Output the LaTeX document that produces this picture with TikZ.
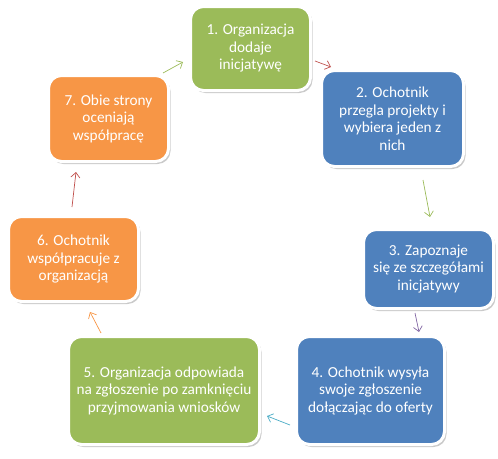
\documentclass[tikz,border=0pt]{standalone}
\usepackage{fontspec}
\setmainfont{Carlito}
\usetikzlibrary{arrows.meta,shadows}
\definecolor{cgreen}{HTML}{9BBB59}
\definecolor{cblue}{HTML}{4F81BD}
\definecolor{corange}{HTML}{F79646}
\definecolor{cred}{HTML}{C0504D}
\definecolor{cpurple}{HTML}{8064A2}
\definecolor{ccyan}{HTML}{4BACC6}
\tikzset{
  box/.style={rectangle, rounded corners=13pt, draw=white, line width=3pt,
    text=white, align=center, inner sep=0pt,
    font=\fontsize{15.3}{17.5}\selectfont,
    drop shadow={shadow xshift=2pt, shadow yshift=-2.5pt, opacity=0.35, fill=black!60}},
  arr/.style={line width=0.7pt, -{Straight Barb[length=5pt,width=9pt]}},
}
\begin{document}
\begin{tikzpicture}[x=1pt,y=-1pt]
\useasboundingbox (0,0) rectangle (498,458);
\node[box, fill=cgreen, minimum width=120pt, minimum height=84pt] (b1) at (250.5,48.5) {1. Organizacja\\dodaje\\inicjatywę};
\node[box, fill=cblue, minimum width=142pt, minimum height=96pt] (b2) at (392.5,118.5) {2. Ochotnik\\przegla projekty i\\wybiera jeden z\\nich};
\node[box, fill=cblue, minimum width=130pt, minimum height=79pt] (b3) at (428.5,269) {3. Zapoznaje\\się ze szczegółami\\inicjatywy};
\node[box, fill=cblue, minimum width=148pt, minimum height=108pt] (b4) at (370.5,390.5) {4. Ochotnik wysyła\\swoje zgłoszenie\\dołączając do oferty};
\node[box, fill=cgreen, minimum width=191pt, minimum height=108pt] (b5) at (164,390.5) {5. Organizacja odpowiada\\na zgłoszenie po zamknięciu\\przyjmowania wniosków};
\node[box, fill=corange, minimum width=130pt, minimum height=85pt] (b6) at (73.5,259) {6. Ochotnik\\współpracuje z\\organizacją};
\node[box, fill=corange, minimum width=120pt, minimum height=86pt] (b7) at (108.5,118.5) {7. Obie strony\\oceniają\\współpracę};
\coordinate (a71s) at (163,73); \coordinate (a71e) at (183,62);
\coordinate (a12s) at (315,61); \coordinate (a12e) at (331,67);
\coordinate (a23s) at (423,180); \coordinate (a23e) at (430,217);
\coordinate (a34s) at (415,313); \coordinate (a34e) at (419,332);
\coordinate (a45s) at (290,425); \coordinate (a45e) at (267,416);
\coordinate (a56s) at (101,333); \coordinate (a56e) at (90,312);
\coordinate (a67s) at (72,207); \coordinate (a67e) at (76,172);
\draw[arr, cgreen] (a71s) -- (a71e);
\draw[arr, cred] (a12s) -- (a12e);
\draw[arr, cgreen] (a23s) -- (a23e);
\draw[arr, cpurple] (a34s) -- (a34e);
\draw[arr, ccyan] (a45s) -- (a45e);
\draw[arr, corange] (a56s) -- (a56e);
\draw[arr, cred] (a67s) -- (a67e);
\end{tikzpicture}
\end{document}
